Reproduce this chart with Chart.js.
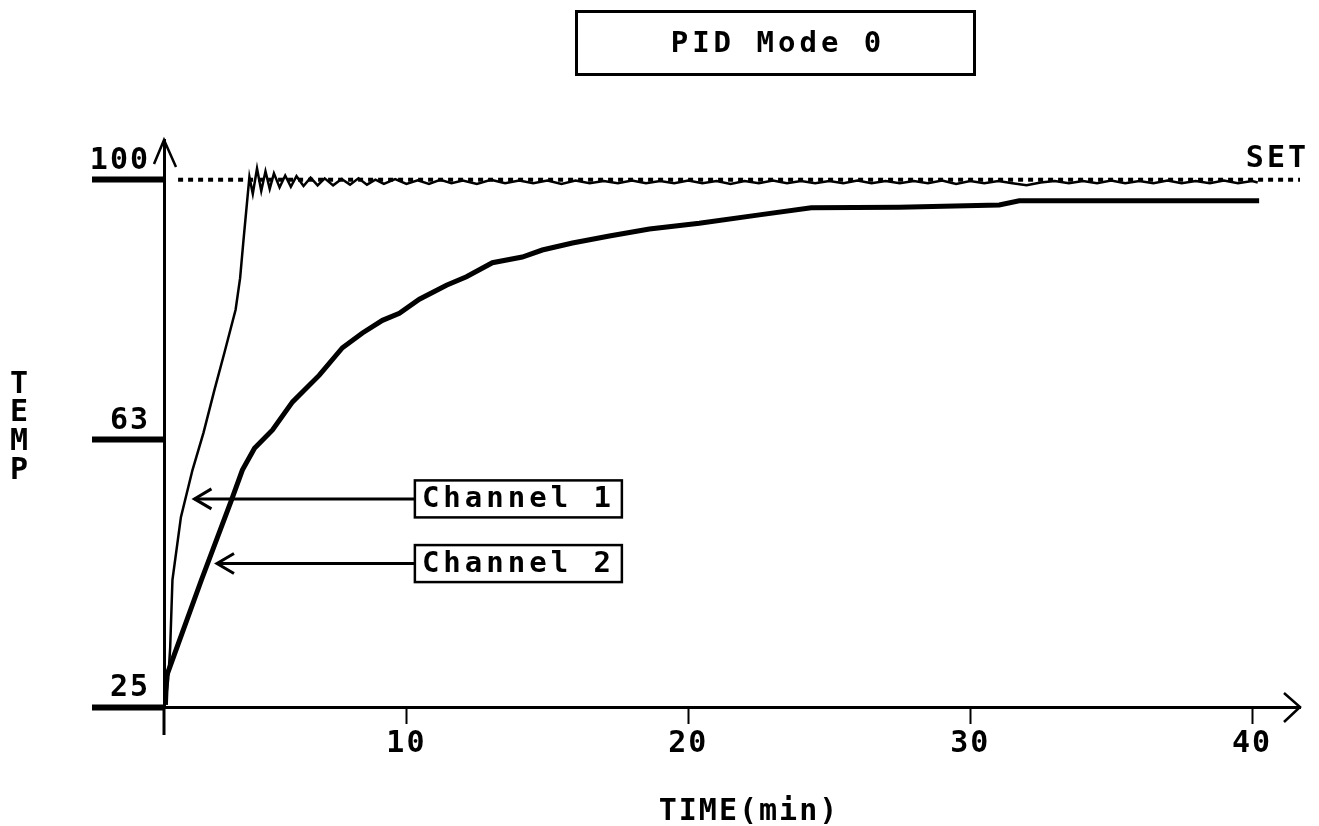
<!DOCTYPE html>
<html><head><meta charset="utf-8">
<script src="https://cdn.jsdelivr.net/npm/chart.js@4"></script>
<style>html,body{margin:0;padding:0;background:#fff}#wrap{width:1319px;height:826px;position:relative}</style>
</head><body><div id="wrap"><canvas id="c"></canvas></div>
<script>
// ---- data ----
const time1 = [1.45,1.55,1.62,1.70,2.00,2.41,2.80,3.19,3.55,3.94,4.10,4.22,4.43,4.55,4.70,4.85,5.00,5.15,5.30,5.50,5.70,5.90,6.10,6.35,6.60,6.85,7.10,7.40,7.70,8.00,8.30,8.60,8.90,9.20,9.60,10.0,10.4,10.8,11.2,11.6,12.0,12.5,13.0,13.5,14.0,14.5,15.0,15.5,16.0,16.5,17.0,17.5,18.0,18.5,19.0,19.5,20.0,20.5,21.0,21.5,22.0,22.5,23.0,23.5,24.0,24.5,25.0,25.5,26.0,26.5,27.0,27.5,28.0,28.5,29.0,29.5,30.0,30.5,31.0,31.5,32.0,32.5,33.0,33.5,34.0,34.5,35.0,35.5,36.0,36.5,37.0,37.5,38.0,38.5,39.0,39.5,40.0,40.2];
const temp1 = [25.6,29.0,33.5,43.1,52.0,58.7,64.0,70.1,75.5,81.5,86.0,91.4,100.4,98.0,101.6,98.4,101.2,98.7,100.9,98.9,100.6,99.0,100.5,99.1,100.3,99.2,100.2,99.2,100.1,99.3,100.2,99.3,100.0,99.4,100.1,99.4,99.9,99.4,100.0,99.5,99.9,99.4,100.0,99.5,99.9,99.5,99.9,99.4,99.9,99.5,99.8,99.5,99.9,99.5,99.8,99.5,99.9,99.5,99.8,99.4,99.8,99.5,99.9,99.5,99.8,99.5,99.8,99.5,99.9,99.5,99.8,99.5,99.8,99.5,99.9,99.4,99.8,99.5,99.8,99.5,99.2,99.6,99.8,99.5,99.8,99.5,99.9,99.5,99.8,99.5,99.9,99.5,99.8,99.5,99.9,99.5,99.8,99.6];
const time2 = [1.45,1.49,2.73,3.79,4.18,4.61,5.25,5.96,6.91,7.73,8.44,9.15,9.75,10.46,11.42,12.13,13.05,14.11,14.82,15.89,17.20,18.62,20.39,22.52,24.36,27.48,31.03,31.74,36.35,40.25];
const temp2 = [25.3,29.4,43.1,54.4,58.7,61.8,64.4,68.4,72.2,76.1,78.2,80.0,81.0,83.0,85.0,86.2,88.2,89.0,90.0,91.0,92.0,93.0,93.8,95.0,96.0,96.1,96.4,97.0,97.0,97.0];
const setTime = [1.9, 41.7];
const setTemp = [100, 100];
const xTicks = [10, 20, 30, 40];
const yTicks = [25, 63, 100];
const seriesNames = ['Channel 1', 'Channel 2'];
const chartTitle = 'PID Mode 0';
const xTitle = 'TIME(min)';
const yTitle = 'TEMP';
const setLabel = 'SET';

const FONT = '"DejaVu Sans Mono", "Liberation Mono", monospace';
const toPts = (xs, ys) => xs.map((x, i) => ({x, y: ys[i]}));

const decor = {
  id: 'decor',
  beforeDraw(chart) { chart.ctx.letterSpacing = '2px'; },
  afterDraw(chart) {
    const {ctx, scales: {x, y}, chartArea: ca} = chart;
    ctx.save();
    ctx.strokeStyle = '#000'; ctx.fillStyle = '#000';
    // y axis extends below the x axis
    ctx.lineWidth = 3;
    ctx.beginPath(); ctx.moveTo(ca.left, ca.bottom); ctx.lineTo(ca.left, ca.bottom + 28); ctx.stroke();
    // axis arrow heads
    ctx.lineWidth = 2.5;
    ctx.beginPath(); ctx.moveTo(ca.left - 10, ca.top + 24); ctx.lineTo(ca.left, ca.top); ctx.lineTo(ca.left + 12, ca.top + 27); ctx.stroke();
    ctx.beginPath(); ctx.moveTo(ca.right - 16, ca.bottom - 14); ctx.lineTo(ca.right, ca.bottom); ctx.lineTo(ca.right - 16, ca.bottom + 15); ctx.stroke();

    // title in box
    ctx.lineWidth = 3;
    ctx.strokeRect(576.5, 11.5, 398, 63);
    ctx.letterSpacing = '4px';
    ctx.font = 'bold 29px ' + FONT;
    ctx.textAlign = 'center'; ctx.textBaseline = 'middle';
    ctx.fillText(chartTitle, 778, 44);

    // axis titles
    ctx.letterSpacing = '2px';
    ctx.font = 'bold 30px ' + FONT;
    ctx.fillText(xTitle, 749, 812);
    ctx.letterSpacing = '0px';
    const ty = [385, 413, 442, 471];
    [...yTitle].forEach((ch, i) => ctx.fillText(ch, 19, ty[i]));

    // SET label
    ctx.letterSpacing = '3px';
    ctx.textAlign = 'right';
    ctx.fillText(setLabel, 1309, y.getPixelForValue(100) - 21);

    // channel callouts
    const callouts = [
      {name: seriesNames[0], tip: 2.48, box: 10.3, v: 54.6},
      {name: seriesNames[1], tip: 3.28, box: 10.3, v: 45.4}
    ];
    callouts.forEach(c => {
      const tx = x.getPixelForValue(c.tip), bx = x.getPixelForValue(c.box), py = y.getPixelForValue(c.v);
      ctx.lineWidth = 3;
      ctx.beginPath(); ctx.moveTo(tx, py); ctx.lineTo(bx, py); ctx.stroke();
      ctx.beginPath(); ctx.moveTo(tx + 17, py - 10); ctx.lineTo(tx, py); ctx.lineTo(tx + 17, py + 10); ctx.stroke();
      ctx.lineWidth = 2.5;
      ctx.strokeRect(bx, py - 18.5, 207, 37);
      ctx.font = 'bold 29px ' + FONT;
      ctx.letterSpacing = '4px';
      ctx.textAlign = 'left'; ctx.textBaseline = 'middle';
      ctx.fillText(c.name, bx + 7, py + 1);
    });
    ctx.restore();
    ctx.letterSpacing = '0px';
  }
};

new Chart(document.getElementById('c'), {
  type: 'line',
  data: {
    datasets: [
      {label: seriesNames[0], data: toPts(time1, temp1), borderColor: '#000', borderWidth: 2.5, pointRadius: 0, tension: 0, fill: false},
      {label: seriesNames[1], data: toPts(time2, temp2), borderColor: '#000', borderWidth: 5, pointRadius: 0, tension: 0, fill: false},
      {label: setLabel, data: toPts(setTime, setTemp), borderColor: '#000', borderWidth: 4, borderDash: [5, 5], pointRadius: 0, fill: false}
    ]
  },
  options: {
    responsive: true,
    maintainAspectRatio: false,
    animation: false,
    layout: {padding: {top: 140, right: 19, left: 0, bottom: 0}},
    plugins: {legend: {display: false}, title: {display: false}, tooltip: {enabled: false}},
    scales: {
      x: {
        type: 'linear', min: 1.4, max: 41.7,
        afterBuildTicks: s => { s.ticks = xTicks.map(v => ({value: v})); },
        afterFit: s => { s.height = 119; },
        grid: {display: true, drawOnChartArea: false, drawTicks: true, tickLength: 17, tickWidth: 2, tickColor: '#000'},
        border: {display: true, color: '#000', width: 3},
        ticks: {color: '#000', padding: 2, maxRotation: 0, font: {family: FONT, size: 30, weight: 'bold'}, callback: v => String(v)}
      },
      y: {
        type: 'linear', min: 25, max: 105.65,
        afterBuildTicks: s => { s.ticks = yTicks.map(v => ({value: v})); },
        afterFit: s => { s.width = 164; },
        grid: {display: true, drawOnChartArea: false, drawTicks: true, tickLength: 72, tickWidth: 6, tickColor: '#000'},
        border: {display: true, color: '#000', width: 3},
        ticks: {color: '#000', padding: -58, labelOffset: -19, font: {family: FONT, size: 30, weight: 'bold'}, callback: v => String(v)}
      }
    }
  },
  plugins: [decor]
});
</script>
</body></html>
